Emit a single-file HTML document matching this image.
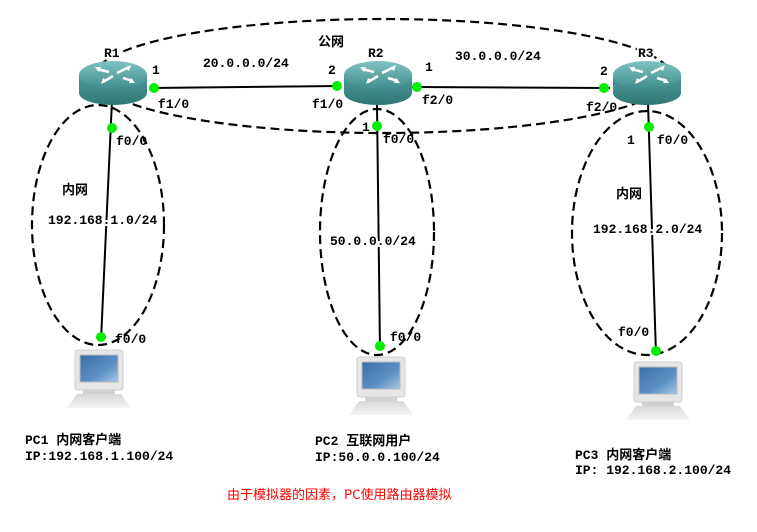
<!DOCTYPE html>
<html><head><meta charset="utf-8"><style>
html,body{margin:0;padding:0;background:#fff;}
svg{display:block;}
text{font-family:"Liberation Mono","Noto Sans CJK SC",monospace;font-weight:bold;font-size:13px;fill:#000;}
.bg{stroke:#fff;stroke-width:4px;paint-order:stroke;}
</style></head><body>
<svg width="757" height="532" viewBox="0 0 757 532" xmlns="http://www.w3.org/2000/svg">
<defs>
<linearGradient id="rb" x1="0" x2="0" y1="0" y2="1"><stop offset="0" stop-color="#4f9c9a"/><stop offset="1" stop-color="#2e7775"/></linearGradient>
<linearGradient id="rt" x1="0" x2="0" y1="0" y2="1"><stop offset="0" stop-color="#7fc2c0"/><stop offset="1" stop-color="#3f8e8c"/></linearGradient>
<linearGradient id="scr" x1="0" x2="1" y1="0" y2="1"><stop offset="0" stop-color="#3a6ea8"/><stop offset="0.6" stop-color="#5b8fc4"/><stop offset="1" stop-color="#a8c8e6"/></linearGradient>
<linearGradient id="base" x1="0" x2="0" y1="0" y2="1"><stop offset="0" stop-color="#d8d8d8"/><stop offset="1" stop-color="#f4f4f4"/></linearGradient>
<g id="router">
<path d="M0,14 L0,32 A34,12 0 0 0 68,32 L68,14 Z" fill="url(#rb)"/>
<ellipse cx="34" cy="14" rx="34" ry="14" fill="url(#rt)"/>
<g stroke="#fff" stroke-width="2.5" fill="none">
<path d="M18,8 L30,11 M44,17 L54,20 M50,6 L38,12 M24,21 L34,15"/>
</g>
<path d="M16,6 l6,0 l-2,5 Z M56,22 l-6,0 l2,-5 Z M52,4 l-2,6 l-4,-3 Z M22,23 l2,-6 l4,3 Z" fill="#fff"/>
</g>
<g id="pc">
<rect x="8" y="0" width="48" height="40" rx="3" fill="#e6e6e6" stroke="#cfcfcf"/>
<rect x="13" y="5" width="38" height="27" fill="url(#scr)" stroke="#bbb"/>
<rect x="16" y="40" width="32" height="4" fill="#d0d0d0"/>
<path d="M10,44 L54,44 L64,58 L0,58 Z" fill="url(#base)"/>
</g>
</defs>

<g fill="none" stroke="#000" stroke-width="2.2" stroke-dasharray="9,5">
<ellipse cx="383" cy="76" rx="288" ry="57"/>
<ellipse cx="98" cy="225" rx="66" ry="120"/>
<ellipse cx="377" cy="232" rx="57" ry="123"/>
<ellipse cx="647" cy="233" rx="75" ry="122"/>
</g>
<g stroke="#000" stroke-width="2">
<line x1="150" y1="88" x2="340" y2="86"/>
<line x1="412" y1="87" x2="610" y2="88"/>
<line x1="112" y1="100" x2="101" y2="340"/>
<line x1="377" y1="105" x2="380" y2="350"/>
<line x1="648" y1="103" x2="656" y2="355"/>
</g>

<use href="#router" x="79" y="61"/>
<use href="#router" x="344" y="61"/>
<use href="#router" x="613" y="61"/>

<use href="#pc" x="67" y="350"/>
<use href="#pc" x="349" y="357"/>
<use href="#pc" x="626" y="362"/>

<g fill="#00ee00">
<circle cx="154" cy="88" r="5"/><circle cx="337" cy="86" r="5"/>
<circle cx="417" cy="87" r="5"/><circle cx="604" cy="88" r="5"/>
<circle cx="112" cy="128" r="5"/><circle cx="377" cy="126" r="5"/>
<circle cx="649" cy="127" r="5"/>
<circle cx="101" cy="337" r="5"/><circle cx="380" cy="346" r="5"/><circle cx="656" cy="351" r="5"/>
</g>

<text x="104" y="57" class="bg">R1</text>
<text x="368" y="57">R2</text>
<text x="638" y="57" class="bg">R3</text>
<text x="318" y="46" class="bg">公网</text>
<text x="203" y="67">20.0.0.0/24</text>
<text x="455" y="60">30.0.0.0/24</text>
<text x="152" y="74">1</text>
<text x="328" y="74">2</text>
<text x="425" y="71">1</text>
<text x="600" y="75">2</text>
<text x="158" y="108">f1/0</text>
<text x="312" y="108">f1/0</text>
<text x="422" y="104">f2/0</text>
<text x="586" y="111">f2/0</text>
<text x="116" y="145">f0/0</text>
<text x="362" y="131">1</text>
<text x="383" y="143">f0/0</text>
<text x="627" y="144">1</text>
<text x="657" y="144">f0/0</text>
<text x="62" y="194">内网</text>
<text x="48" y="224" class="bg">192.168.1.0/24</text>
<text x="330" y="245" class="bg">50.0.0.0/24</text>
<text x="616" y="198">内网</text>
<text x="593" y="233" class="bg">192.168.2.0/24</text>
<text x="115" y="343">f0/0</text>
<text x="390" y="341">f0/0</text>
<text x="618" y="336">f0/0</text>
<text x="25" y="444">PC1  内网客户端</text>
<text x="25" y="460">IP:192.168.1.100/24</text>
<text x="315" y="445">PC2 互联网用户</text>
<text x="315" y="461">IP:50.0.0.100/24</text>
<text x="575" y="459">PC3  内网客户端</text>
<text x="575" y="474">IP: 192.168.2.100/24</text>
<text x="227" y="499" style="font-family:'Noto Sans CJK SC','Liberation Sans',sans-serif;font-weight:normal;fill:#ff0000;font-size:13px">由于模拟器的因素，PC使用路由器模拟</text>
</svg>
</body></html>
